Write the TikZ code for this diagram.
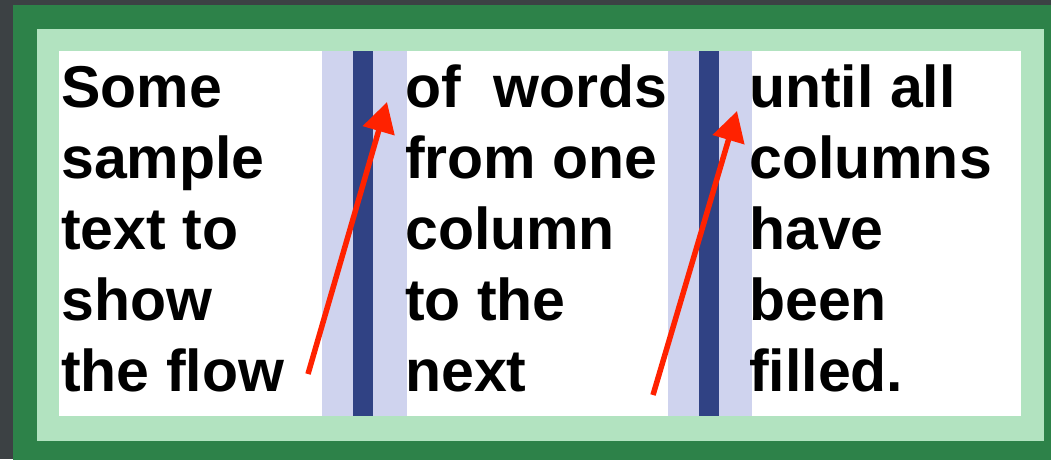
\documentclass[tikz,border=0pt]{standalone}
\usepackage{fontspec}
\setmainfont{Liberation Sans}
\usetikzlibrary{arrows.meta}
\definecolor{slate}{HTML}{3C4144}
\definecolor{frameGreen}{HTML}{2D8249}
\definecolor{mintGreen}{HTML}{B2E3C0}
\definecolor{gutterBlue}{HTML}{CFD3EE}
\definecolor{ruleBlue}{HTML}{304284}
\definecolor{flowRed}{HTML}{FF2200}
\tikzset{
  coltext/.style={anchor=north west, inner sep=0pt, align=left,
    font=\fontsize{59}{71}\selectfont\bfseries},
  flowarrow/.style={draw=flowRed, line width=5.5pt,
    -{Triangle[length=30pt,width=32pt]}}
}
\begin{document}
\begin{tikzpicture}[x=1pt, y=-1pt]
    \useasboundingbox (0,0) rectangle (1051,459);
    \fill[slate] (0,0) rectangle (1051,459);
    \fill[frameGreen] (13,5) rectangle (1060,470);
    \fill[mintGreen] (37,29) rectangle (1044,441);
    \fill[white] (59,51) rectangle (1021,416);
    \fill[gutterBlue] (322,51) rectangle (407,416);
    \fill[gutterBlue] (668,51) rectangle (752,416);
    \fill[ruleBlue] (353,51) rectangle (373,416);
    \fill[ruleBlue] (699,51) rectangle (719,416);
    \node[coltext] (colA) at (61,57) {\rule{0pt}{50pt}Some\\sample\\text to\\show\\the flow};
    \node[coltext] (colB) at (405,57) {\rule{0pt}{50pt}of\ \ words\\from one\\column\\to the\\next};
    \node[coltext] (colC) at (749,57) {\rule{0pt}{50pt}until all\\columns\\have\\been\\filled.};
    \coordinate (flowAstart) at (308,374);
    \coordinate (flowAend) at (387,102);
    \coordinate (flowBstart) at (653,395);
    \coordinate (flowBend) at (737,111);
    \draw[flowarrow] (flowAstart) -- (flowAend);
    \draw[flowarrow] (flowBstart) -- (flowBend);
\end{tikzpicture}
\end{document}
